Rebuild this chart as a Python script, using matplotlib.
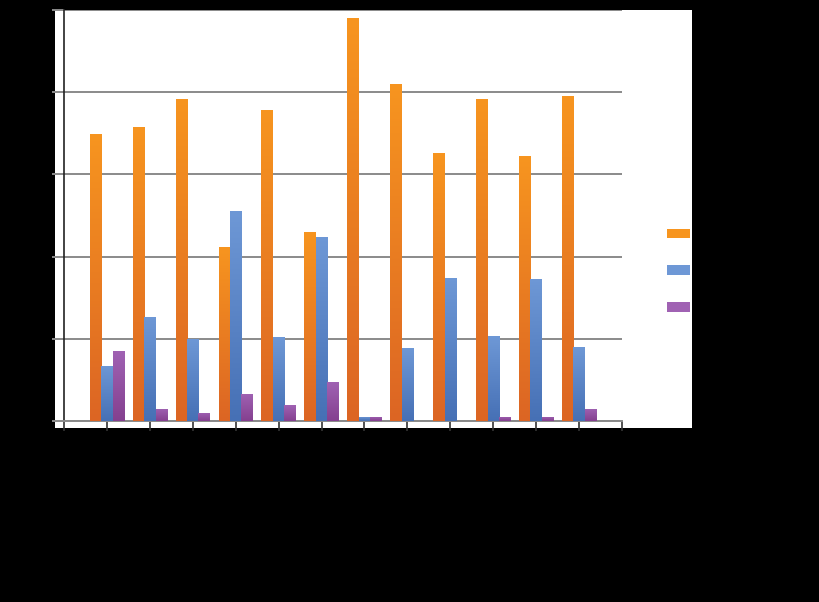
import numpy as np
import matplotlib
matplotlib.use("Agg")
import matplotlib.pyplot as plt
from matplotlib.patches import Rectangle
from matplotlib.colors import LinearSegmentedColormap

# values (grid step = 20)
groups = np.arange(1, 13)
orange_vals = [69.8, 71.6, 78.4, 42.4, 75.6, 46.0, 98.0, 82.0, 65.2, 78.4, 64.4, 79.0]
blue_vals = [13.4, 25.4, 20.0, 51.0, 20.4, 44.8, 1.0, 17.8, 34.8, 20.6, 34.6, 18.0]
purple_vals = [17.0, 3.0, 2.0, 6.6, 3.8, 9.4, 1.0, 0.0, 0.0, 1.0, 1.0, 3.0]

series = [
    (orange_vals, "#F7951F", "#DC6524"),
    (blue_vals, "#6E98D6", "#4670B5"),
    (purple_vals, "#A062B3", "#84408F"),
]

fig = plt.figure(figsize=(8.2, 6.02), dpi=100, facecolor="black")
# white chart area
fig.patches.append(Rectangle((55 / 820, 1 - 428 / 602), (692 - 55) / 820, (428 - 10) / 602,
                             transform=fig.transFigure, facecolor="white", edgecolor="none", zorder=-5))

ax = fig.add_axes([64 / 820, 1 - 421 / 602, (622 - 64) / 820, (421 - 10) / 602])
ax.set_zorder(2)
ax.set_facecolor("white")

w = 0.267
grad = np.linspace(0, 1, 256).reshape(-1, 1)
handles = []
for i, (vals, top, bottom) in enumerate(series):
    bars = ax.bar(groups + (i - 1) * w, vals, width=w, color=bottom, edgecolor="none", zorder=3)
    cmap = LinearSegmentedColormap.from_list("g%d" % i, [bottom, top])
    for b in bars:
        x0, h = b.get_x(), b.get_height()
        if h <= 0:
            continue
        im = ax.imshow(grad, cmap=cmap, origin="lower", aspect="auto",
                       extent=[x0, x0 + b.get_width(), 0, h], zorder=3.5)
        im.set_clip_path(b)
    handles.append(Rectangle((0, 0), 1, 1, facecolor=top, edgecolor="none"))

ax.set_xlim(0, 13)
ax.set_ylim(0, 100)
ax.set_yticks(np.arange(0, 101, 20))
ax.set_xticks(np.arange(0, 14))
ax.set_xticklabels([])
ax.set_yticklabels([])
ax.yaxis.grid(True, color="#8a8a8a", linewidth=1.4, zorder=1)
ax.set_axisbelow(True)
ax.tick_params(axis="y", length=9, width=1.4, color="#8a8a8a", direction="out")
ax.tick_params(axis="x", length=7, width=1.2, color="#333333", direction="out")
for s in ["top", "right"]:
    ax.spines[s].set_visible(False)
ax.spines["left"].set_color("#222222")
ax.spines["left"].set_linewidth(1.2)
ax.spines["bottom"].set_color("#8a8a8a")
ax.spines["bottom"].set_linewidth(1.4)

fig.legend(handles, ["", "", ""], loc="center left", bbox_to_anchor=(654 / 820, 1 - 271 / 602),
           frameon=False, handlelength=1.7, handleheight=0.65, labelspacing=1.65,
           handletextpad=0.2, fontsize=10)

fig.savefig("out.png", dpi=100, facecolor="black")
